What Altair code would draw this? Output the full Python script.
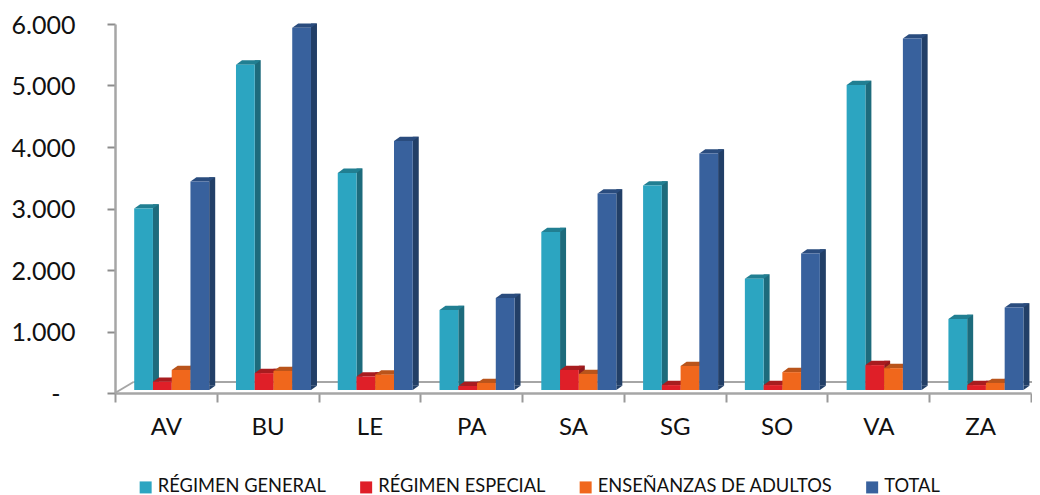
import altair as alt
import pandas as pd

CATS = ["AV", "BU", "LE", "PA", "SA", "SG", "SO", "VA", "ZA"]
SERIES = ["RÉGIMEN GENERAL", "RÉGIMEN ESPECIAL", "ENSEÑANZAS DE ADULTOS", "TOTAL"]
GENERAL = [2950, 5290, 3530, 1300, 2570, 3325, 1810, 4960, 1155]
ESPECIAL = [135, 275, 220, 65, 325, 80, 80, 405, 80]
ADULTOS = [325, 310, 250, 115, 260, 390, 290, 355, 115]
TOTAL = [3390, 5890, 4050, 1495, 3195, 3845, 2220, 5715, 1340]
FRONT = ["#2ca5c1", "#df1f28", "#f0671c", "#38619d"]
SIDE = ["#1d6b7c", "#8f1a1d", "#a84a14", "#223f67"]
TOP = ["#217f92", "#a81c1f", "#b9541b", "#2a4c7e"]

rows = []
for s, vals in zip(SERIES, [GENERAL, ESPECIAL, ADULTOS, TOTAL]):
    for c, v in zip(CATS, vals):
        rows.append({"cat": c, "series": s, "value": v, "zero": 0})
df = pd.DataFrame(rows)

FONT = "Lato"
BASE = -3
BW = 18.75
DX, DY = 6, 4.3
R = 50.0
GROUP = [19.2, 94.2]


def p(a, b):
    return f"{a / R:.4f},{b / R:.4f}"


h = BW / 2
TOP_PATH = f"M{p(-h, 0)}L{p(h, 0)}L{p(h + DX, -DY)}L{p(-h + DX, -DY)}Z"
TRI_PATH = f"M{p(h, 0)}L{p(h + DX, -DY)}L{p(h, -DY)}Z"

x = alt.X(
    "cat:N",
    sort=CATS,
    title=None,
    scale=alt.Scale(paddingInner=0, paddingOuter=0),
    axis=alt.Axis(
        labelAngle=0, labelFont=FONT, labelFontSize=24, labelColor="#111111",
        labelPadding=13, tickBand="extent", tickSize=9, tickColor="#999999",
        tickWidth=2, domainColor="#a6a6a6", domainWidth=2.5,
    ),
)
xo = alt.XOffset("series:N", sort=SERIES, scale=alt.Scale(domain=SERIES, range=GROUP))
shift = h + DX / 2
xo_side = alt.XOffset(
    "series:N", sort=SERIES,
    scale=alt.Scale(domain=SERIES, range=[GROUP[0] + shift, GROUP[1] + shift]),
)
y = alt.Y(
    "value:Q",
    title=None,
    scale=alt.Scale(domain=[0, 6000], nice=False, zero=True),
    axis=alt.Axis(
        values=[0, 1000, 2000, 3000, 4000, 5000, 6000],
        labelExpr="datum.value == 0 ? '' : replace(format(datum.value, ','), ',', '.')",
        labelFont=FONT, labelFontSize=25, labelColor="#111111", labelPadding=32,
        labelOffset=1, tickSize=8, tickColor="#8c8c8c", tickWidth=2,
        domainColor="#a6a6a6", domainWidth=2.5, grid=False, labelBound=False,
        labelFlush=False,
    ),
)


def col(rng, legend=None):
    return alt.Color("series:N", sort=SERIES, scale=alt.Scale(domain=SERIES, range=rng), legend=legend)


base = alt.Chart(df)
side = base.mark_bar(
    size=DX, yOffset=BASE - DY, y2Offset=BASE - DY, opacity=1
).encode(x=x, xOffset=xo_side, y=y, y2="zero:Q", color=col(SIDE))
tops = base.mark_point(
    shape=TOP_PATH, size=(2 * R) ** 2, filled=True, opacity=1, yOffset=BASE
).encode(x=x, xOffset=xo, y=y, color=col(TOP))
tris = base.mark_point(
    shape=TRI_PATH, size=(2 * R) ** 2, filled=True, opacity=1, yOffset=BASE
).encode(x=x, xOffset=xo, y=alt.Y("zero:Q", scale=alt.Scale(domain=[0, 6000], nice=False)), color=col(SIDE))
front = base.mark_bar(size=BW, yOffset=BASE, y2Offset=BASE, opacity=1).encode(
    x=x, xOffset=xo, y=y, y2="zero:Q",
    color=col(FRONT, alt.Legend(
        title=None, orient="none", legendX=21.5, legendY=454, direction="horizontal",
        columns=4, symbolType="square", symbolSize=144, symbolStrokeWidth=0,
        labelFont=FONT, labelFontSize=18.3, labelColor="#111111", labelOffset=3,
        columnPadding=30.5, labelLimit=400,
    )),
)

GRAY = "#a6a6a6"
one = alt.Data(values=[{"a": 1}])
back_line = alt.Chart(one).mark_rule(color=GRAY, strokeWidth=2).encode(
    x=alt.value(18.5), x2=alt.value(917), y=alt.value(358), y2=alt.value(358))
diag_l = alt.Chart(one).mark_rule(color=GRAY, strokeWidth=2).encode(
    x=alt.value(0), x2=alt.value(18.5), y=alt.value(369), y2=alt.value(358))
zero_label = alt.Chart(one).mark_text(
    text="-", font=FONT, fontSize=25, color="#111111", align="center", baseline="middle"
).encode(x=alt.value(-59), y=alt.value(371))

chart = (
    alt.layer(back_line, diag_l, side, tops, tris, front, zero_label)
    .resolve_scale(color="independent", xOffset="independent")
    .properties(
        width=916, height=369,
        autosize=alt.AutoSizeParams(type="none"),
        padding={"left": 107, "top": 16, "right": 1, "bottom": 102},
        background="white",
    )
    .configure_view(stroke=None)
)
chart.save("out.html", embed_options={"renderer": "svg", "actions": False})
